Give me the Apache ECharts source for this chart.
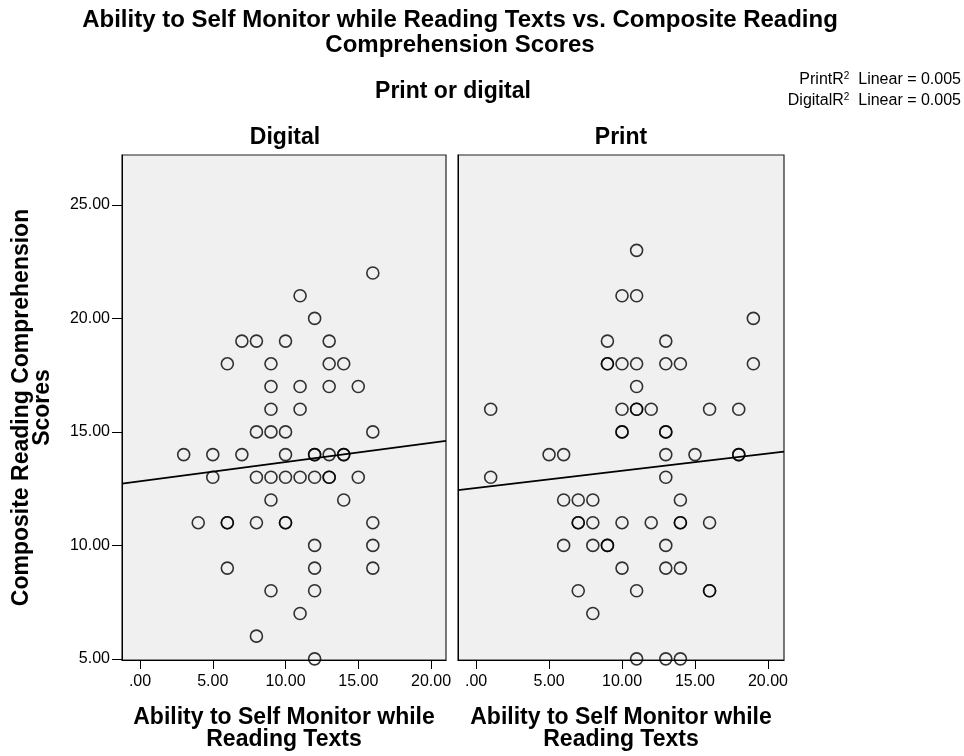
<!DOCTYPE html>
<html>
<head>
<meta charset="utf-8">
<title>Self Monitor vs Reading Comprehension</title>
<script src="https://cdn.jsdelivr.net/npm/echarts@6/dist/echarts.min.js"></script>
<style>
  html, body { margin: 0; padding: 0; background: #fff; }
  #chart { width: 964px; height: 756px; }
</style>
</head>
<body>
<div id="chart"></div>
<script>
// panel names
var panels = ["Digital", "Print"];

// Digital panel: [self monitor, comprehension]
var digitalPoints = [
  [16, 22], [11, 21], [12, 20],
  [7, 19], [8, 19], [10, 19], [13, 19],
  [6, 18], [9, 18], [13, 18], [14, 18],
  [9, 17], [11, 17], [13, 17], [15, 17],
  [9, 16], [11, 16],
  [8, 15], [9, 15], [10, 15], [16, 15],
  [3, 14], [5, 14], [7, 14], [10, 14], [12, 14], [12, 14], [13, 14], [14, 14], [14, 14],
  [5, 13], [8, 13], [9, 13], [10, 13], [11, 13], [12, 13], [13, 13], [13, 13], [15, 13],
  [9, 12], [14, 12],
  [4, 11], [6, 11], [6, 11], [8, 11], [10, 11], [10, 11], [16, 11],
  [12, 10], [16, 10],
  [6, 9], [12, 9], [16, 9],
  [9, 8], [12, 8],
  [11, 7], [8, 6], [12, 5]
];

// Print panel
var printPoints = [
  [11, 23], [10, 21], [11, 21], [19, 20],
  [9, 19], [13, 19],
  [9, 18], [9, 18], [10, 18], [11, 18], [13, 18], [14, 18], [19, 18],
  [11, 17],
  [1, 16], [10, 16], [11, 16], [11, 16], [12, 16], [16, 16], [18, 16],
  [10, 15], [10, 15], [13, 15], [13, 15],
  [5, 14], [6, 14], [13, 14], [15, 14], [18, 14], [18, 14],
  [1, 13], [13, 13],
  [6, 12], [7, 12], [8, 12], [14, 12],
  [7, 11], [7, 11], [8, 11], [10, 11], [12, 11], [14, 11], [14, 11], [16, 11],
  [6, 10], [8, 10], [9, 10], [9, 10], [13, 10],
  [10, 9], [13, 9], [14, 9],
  [7, 8], [11, 8], [16, 8], [16, 8],
  [8, 7],
  [11, 5], [13, 5], [14, 5]
];

// linear fit lines (ends at the panel edges)
var digitalFit = [[-1.24, 12.72], [21.03, 14.6]];
var printFit = [[-1.24, 12.43], [21.1, 14.13]];

var xTicks = [0, 5, 10, 15, 20];
var yTicks = [5, 10, 15, 20, 25];
var fitLabels = ["Print", "Digital"];
var r2Values = ["0.005", "0.005"];

var font = "Liberation Sans, Arial, sans-serif";

function fmt(v) {
  var s = v.toFixed(2);
  return s.indexOf("0.") === 0 ? s.slice(1) : s;
}

function xAxisFor(i, left) {
  return {
    type: "value", gridIndex: i,
    min: -1.24, max: left ? 21.03 : 21.1,
    name: "Ability to Self Monitor while\nReading Texts",
    nameLocation: "middle", nameGap: 47,
    nameTextStyle: { fontFamily: font, fontSize: 23, fontWeight: "bold", color: "#000", lineHeight: 22 },
    axisLine: { show: true, onZero: false, lineStyle: { color: "#000", width: 1 } },
    axisTick: { show: true, length: 9, customValues: xTicks, lineStyle: { color: "#000" } },
    axisLabel: { customValues: xTicks, formatter: fmt, fontFamily: font, fontSize: 16, color: "#000", margin: 14 },
    splitLine: { show: false }
  };
}

function yAxisFor(i, left) {
  return {
    type: "value", gridIndex: i,
    min: 4.95, max: 27.2,
    name: left ? "Composite Reading Comprehension\nScores" : "",
    nameLocation: "middle", nameGap: 69,
    nameTextStyle: { fontFamily: font, fontSize: 23, fontWeight: "bold", color: "#000", lineHeight: 21 },
    axisLine: { show: true, onZero: false, lineStyle: { color: "#000", width: 1 } },
    axisTick: { show: left, length: 10, customValues: yTicks, lineStyle: { color: "#000" } },
    axisLabel: { show: left, customValues: yTicks, formatter: fmt, fontFamily: font, fontSize: 16, color: "#000", margin: 12 },
    splitLine: { show: false }
  };
}

var dotStyle = { color: "rgba(0,0,0,0)", borderColor: "#000", borderWidth: 1.6 };
var lineStyle = { color: "#000", width: 1.8 };

function supText(name, r2) {
  return name + "{s|R}{sup|2}{s|  Linear = " + r2 + "}";
}

function headText(text, x, top, size, lh) {
  return {
    text: text, left: x, top: top, textAlign: "center", padding: 0,
    textStyle: { fontFamily: font, fontSize: size, fontWeight: "bold", color: "#000", lineHeight: lh }
  };
}

var myChart = echarts.init(document.getElementById("chart"));

var option = {
  backgroundColor: "#fff",
  animation: false,
  title: [
    headText("Ability to Self Monitor while Reading Texts vs. Composite Reading\nComprehension Scores", 460, 8, 24, 25),
    headText("Print or digital", 453, 80, 23, 24),
    headText(panels[0], 285, 126, 23, 24),
    headText(panels[1], 621, 126, 23, 24)
  ],
  graphic: fitLabels.map(function (name, k) {
    return {
      type: "text", right: 3, top: 71 + k * 21,
      style: {
        text: supText(name, r2Values[k]),
        font: "16px " + font, fill: "#000",
        rich: {
          s: { fontFamily: font, fontSize: 16, fill: "#000" },
          sup: { fontFamily: font, fontSize: 10, fill: "#000", verticalAlign: "top", padding: [0, 0, 7, 0] }
        }
      }
    };
  }),
  grid: [
    { left: 122, top: 155, width: 324, height: 505, outerBoundsMode: "none", show: true, backgroundColor: "#f0f0f0", borderColor: "#222", borderWidth: 1.2 },
    { left: 458, top: 155, width: 326, height: 505, outerBoundsMode: "none", show: true, backgroundColor: "#f0f0f0", borderColor: "#222", borderWidth: 1.2 }
  ],
  xAxis: [xAxisFor(0, true), xAxisFor(1, false)],
  yAxis: [yAxisFor(0, true), yAxisFor(1, false)],
  series: [
    { type: "scatter", xAxisIndex: 0, yAxisIndex: 0, data: digitalPoints, symbol: "circle", symbolSize: 12, itemStyle: dotStyle, clip: false },
    { type: "scatter", xAxisIndex: 1, yAxisIndex: 1, data: printPoints, symbol: "circle", symbolSize: 12, itemStyle: dotStyle, clip: false },
    { type: "line", xAxisIndex: 0, yAxisIndex: 0, data: digitalFit, showSymbol: false, lineStyle: lineStyle },
    { type: "line", xAxisIndex: 1, yAxisIndex: 1, data: printFit, showSymbol: false, lineStyle: lineStyle }
  ]
};

myChart.setOption(option);
</script>
</body>
</html>
